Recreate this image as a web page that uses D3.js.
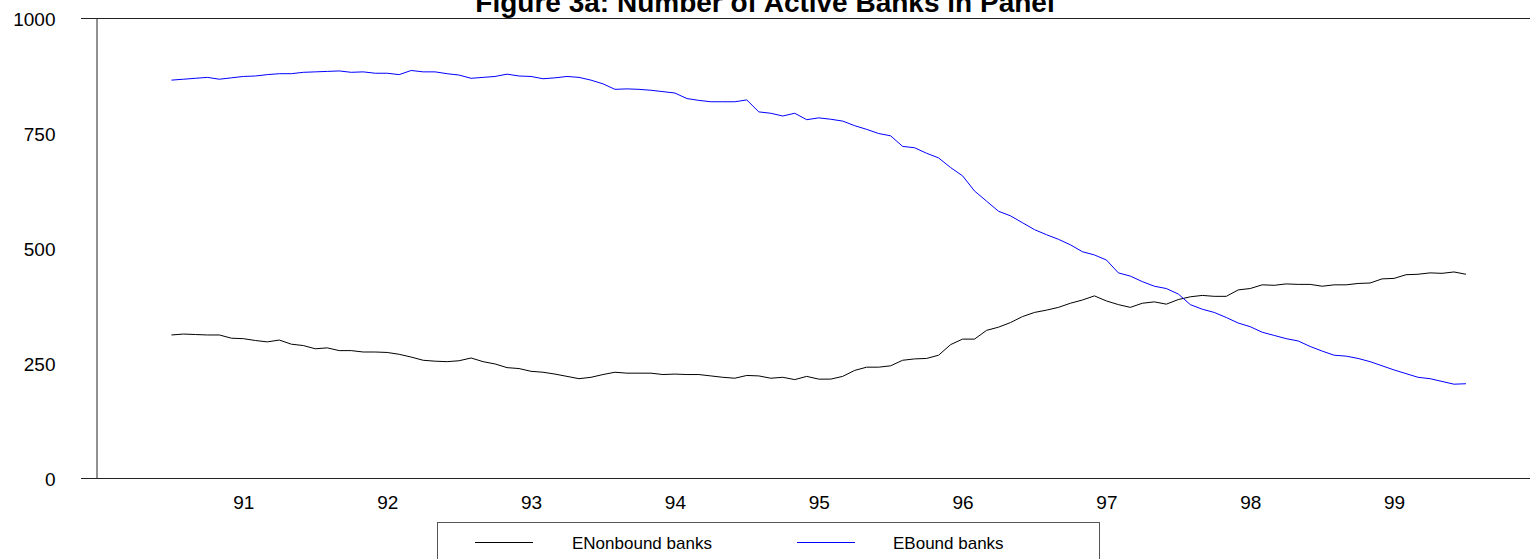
<!DOCTYPE html>
<html>
<head>
<meta charset="utf-8">
<script src="https://cdn.jsdelivr.net/npm/d3@7"></script>
<style>
  body { margin: 0; background: #fff; }
  svg { display: block; font-family: "Liberation Sans", Arial, sans-serif; }
</style>
</head>
<body>
<svg id="chart" width="1530" height="559"></svg>
<script>
// monthly observations, Jan 1991 onwards
const startYear = 1991
const yearLabels = ['91', '92', '93', '94', '95', '96', '97', '98', '99']
const yTicks = [0, 250, 500, 750, 1000]
const seriesNames = ['ENonbound banks', 'EBound banks']
const seriesColours = ['#000000', '#0000ff']

const nonbound = [
    312, 314, 313, 312, 312, 305, 304, 300, 297, 301,
    292, 289, 282, 284, 278, 278, 275, 275, 274, 270,
    264, 257, 255, 254, 256, 262, 254, 249, 241, 239,
    233, 231, 227, 222, 217, 220, 226, 231, 229, 229,
    229, 226, 227, 226, 226, 223, 220, 218, 224, 223,
    218, 220, 215, 222, 216, 216, 222, 235, 242, 242,
    245, 257, 260, 261, 268, 291, 303, 303, 322, 329,
    339, 352, 361, 366, 372, 381, 388, 397, 386, 378,
    372, 381, 384, 379, 389, 395, 398, 396, 396, 410,
    413, 421, 420, 423, 422, 422, 418, 421, 421, 424,
    425, 434, 435, 443, 444, 447, 446, 449, 444
]

const bound = [
    866, 868, 870, 872, 868, 871, 874, 875, 878, 880,
    880, 883, 884, 885, 886, 883, 884, 881, 881, 878,
    887, 884, 884, 880, 877, 870, 872, 874, 879, 875,
    874, 869, 871, 874, 872, 866, 858, 846, 847, 846,
    844, 841, 838, 826, 822, 819, 819, 819, 823, 797,
    794, 788, 794, 780, 784, 781, 777, 767, 759, 750,
    745, 722, 719, 707, 697, 676, 658, 625, 603, 581,
    571, 556, 541, 530, 520, 508, 493, 486, 475, 447,
    440, 428, 418, 413, 401, 378, 368, 361, 350, 338,
    330, 318, 311, 304, 299, 287, 277, 268, 266, 261,
    254, 245, 236, 228, 220, 217, 211, 205, 206
]

const svg = d3.select('#chart')
const width = 1530
const margin = { top: 18.5, left: 96.5, bottom: 80.5 }
const plotBottom = 559 - margin.bottom

const toYear = i => startYear + i / 12

const x = d3.scaleLinear()
    .domain([1990.479, 2000.445])
    .range([margin.left, width])

const y = d3.scaleLinear()
    .domain([0, 1000])
    .range([plotBottom, margin.top])

// title (its top is cut by the page edge in the original)
svg.append('text')
    .attr('x', 765)
    .attr('y', 12)
    .attr('text-anchor', 'middle')
    .style('font-size', '28px')
    .style('font-weight', 'bold')
    .text('Figure 3a: Number of Active Banks in Panel')

// y axis labels
svg.append('g')
    .attr('transform', `translate(${margin.left}, 0)`)
    .style('font-size', '19px')
    .call(d3.axisLeft(y).tickValues(yTicks).tickSize(0).tickPadding(41).tickFormat(d3.format('d')))
    .call(g => g.select('.domain').attr('stroke', '#222'))
    .call(g => g.selectAll('text').attr('fill', '#000').attr('dy', '0.36em'))

// frame lines at 0 and 1000
svg.append('g')
    .selectAll('line')
    .data([0, 1000])
    .join('line')
    .attr('x1', 81)
    .attr('x2', width)
    .attr('y1', d => y(d))
    .attr('y2', d => y(d))
    .attr('stroke', '#222')
    .attr('stroke-width', 1)

// x axis year labels at mid-year
svg.append('g')
    .attr('transform', `translate(0, ${plotBottom})`)
    .style('font-size', '19px')
    .call(d3.axisBottom(x)
        .tickValues(yearLabels.map((d, i) => startYear + i + 0.5))
        .tickSize(0)
        .tickPadding(17)
        .tickFormat((d, i) => yearLabels[i]))
    .call(g => g.select('.domain').remove())
    .call(g => g.selectAll('text').attr('fill', '#000'))

const line = d3.line()
    .x((d, i) => x(toYear(i)))
    .y(d => y(d))

;[nonbound, bound].forEach((series, k) => {
    svg.append('path')
        .datum(series)
        .attr('fill', 'none')
        .attr('stroke', seriesColours[k])
        .attr('stroke-width', 1)
        .attr('stroke-linejoin', 'round')
        .attr('d', line)
})

// legend
const legend = svg.append('g')
legend.append('rect')
    .attr('x', 437.5)
    .attr('y', 522.5)
    .attr('width', 662)
    .attr('height', 60)
    .attr('fill', 'none')
    .attr('stroke', '#555')

const legendItems = [
    { lx: 475, tx: 572 },
    { lx: 797, tx: 893 }
]
legendItems.forEach((item, k) => {
    legend.append('line')
        .attr('x1', item.lx)
        .attr('x2', item.lx + 58)
        .attr('y1', 542.5)
        .attr('y2', 542.5)
        .attr('stroke', seriesColours[k])
    legend.append('text')
        .attr('x', item.tx)
        .attr('y', 548.5)
        .style('font-size', '17px')
        .text(seriesNames[k])
})
</script>
</body>
</html>
